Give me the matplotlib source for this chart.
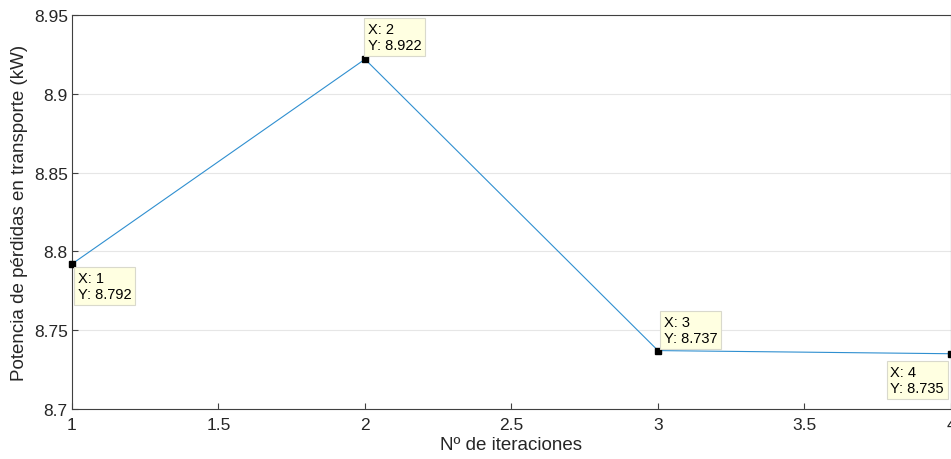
import matplotlib.pyplot as plt

plt.rcParams['font.family'] = ['Liberation Sans', 'DejaVu Sans']

iteraciones = [1, 2, 3, 4]
perdidas = [8.792, 8.922, 8.737, 8.735]
yticks = [8.7, 8.75, 8.8, 8.85, 8.9, 8.95]
xticks = [1, 1.5, 2, 2.5, 3, 3.5, 4]

fig = plt.figure(figsize=(9.51, 4.6), dpi=100)
ax = fig.add_axes([0.0757, 0.109, 0.9243, 0.856])

ax.plot(iteraciones, perdidas, color='#2f8fd0', lw=0.8)
ax.set_xlim(1, 4)
ax.set_ylim(8.7, 8.95)
ax.set_xticks(xticks)
ax.set_xticklabels(['1', '1.5', '2', '2.5', '3', '3.5', '4'])
ax.set_yticks(yticks)
ax.set_yticklabels(['8.7', '8.75', '8.8', '8.85', '8.9', '8.95'])
ax.yaxis.grid(True, color='#e6e6e6', lw=0.8)
ax.set_axisbelow(True)
ax.tick_params(direction='in', length=4, colors='#404040', labelsize=12.5, labelcolor='#262626')
ax.tick_params(axis='y', pad=3)
ax.tick_params(axis='x', pad=6)
for s in ax.spines.values():
    s.set_color('#404040')
    s.set_linewidth(0.8)

ax.set_xlabel('Nº de iteraciones', fontsize=13.5, color='#262626', labelpad=3)
ax.set_ylabel('Potencia de pérdidas en transporte (kW)', fontsize=13.5, color='#262626', labelpad=4)

# data tips
offsets = [(4, -5, 'left', 'top'), (2, 5, 'left', 'bottom'),
           (4, 4, 'left', 'bottom'), (-5, -8, 'right', 'top')]
for (x, y), (dx, dy, ha, va) in zip(zip(iteraciones, perdidas), offsets):
    ax.plot(x, y, 's', color='black', ms=4, clip_on=False, zorder=5)
    ax.annotate(f'X: {x}\nY: {y:.3f}', (x, y), xytext=(dx, dy), textcoords='offset points',
                ha=ha, va=va, multialignment='left', fontsize=10.5, color='black',
                linespacing=1.2,
                bbox=dict(boxstyle='square,pad=0.25', fc='#FFFFE1', ec='#d9d9cc', lw=0.8),
                annotation_clip=False, zorder=6)

fig.savefig('out.png', dpi=100)
